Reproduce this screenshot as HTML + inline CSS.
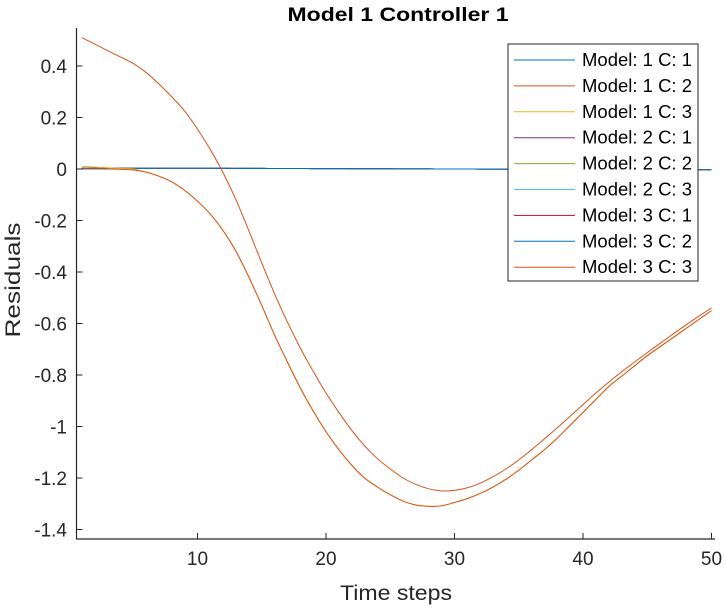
<!DOCTYPE html>
<html><head><meta charset="utf-8"><style>
body{margin:0;background:#fff;}
svg text{font-family:"Liberation Sans",Arial,sans-serif;fill:#262626;}
</style></head><body>
<svg id="chart" width="724" height="608" viewBox="0 0 724 608" xmlns="http://www.w3.org/2000/svg">
<rect width="724" height="608" fill="#fff"/>
<text x="398" y="21" text-anchor="middle" font-size="19" font-weight="bold" textLength="221" lengthAdjust="spacingAndGlyphs" style="fill:#000">Model 1 Controller 1</text>
<text transform="translate(20,280) rotate(-90)" text-anchor="middle" font-size="21" textLength="115" lengthAdjust="spacingAndGlyphs">Residuals</text>
<text x="396" y="600" text-anchor="middle" font-size="21" textLength="112" lengthAdjust="spacingAndGlyphs">Time steps</text>
<g id="plot"></g>
</svg>
<script>
const xTicks=[10,20,30,40,50];
const yTicks=[0.4,0.2,0,-0.2,-0.4,-0.6,-0.8,-1,-1.2,-1.4];
const yTickLabels=["0.4","0.2","0","-0.2","-0.4","-0.6","-0.8","-1","-1.2","-1.4"];
const lowerCurve=[0,0,0,-0.001,-0.004,-0.012,-0.028,-0.05,-0.083,-0.125,-0.175,-0.24,-0.32,-0.42,-0.53,-0.645,-0.75,-0.85,-0.94,-1.02,-1.09,-1.15,-1.2,-1.235,-1.265,-1.29,-1.305,-1.31,-1.308,-1.295,-1.28,-1.26,-1.235,-1.205,-1.17,-1.13,-1.09,-1.045,-0.995,-0.945,-0.895,-0.845,-0.805,-0.765,-0.725,-0.69,-0.655,-0.62,-0.585,-0.55];
const upperCurve=[0.51,0.485,0.46,0.435,0.41,0.375,0.33,0.28,0.225,0.155,0.075,-0.015,-0.12,-0.24,-0.365,-0.485,-0.595,-0.695,-0.785,-0.87,-0.945,-1.015,-1.075,-1.125,-1.165,-1.2,-1.225,-1.242,-1.25,-1.248,-1.238,-1.22,-1.195,-1.165,-1.13,-1.09,-1.048,-1.005,-0.96,-0.915,-0.87,-0.828,-0.788,-0.75,-0.713,-0.677,-0.641,-0.606,-0.572,-0.54];
const flatStart=[0.003,0.003,0.003,0.003,0.003,0.003,0.003,0.003,0.003,0.003];
const flatEnd=-0.003;
const yellowStart=[0.01,0.008,0.005,0.002,0];
const seriesNames=["Model: 1 C: 1","Model: 1 C: 2","Model: 1 C: 3","Model: 2 C: 1","Model: 2 C: 2","Model: 2 C: 3","Model: 3 C: 1","Model: 3 C: 2","Model: 3 C: 3"];
const seriesColors=["#0072BD","#D95319","#EDB120","#7E2F8E","#77AC30","#4DBEEE","#A2142F","#0072BD","#D95319"];

const N=50;
const xs=Array.from({length:N},(_,i)=>i+1);
function flat(){return xs.map((x,i)=>i<flatStart.length?flatStart[i]:flatStart[flatStart.length-1]+(flatEnd-flatStart[flatStart.length-1])*(i-flatStart.length+1)/(N-flatStart.length));}
const yellow=lowerCurve.map((v,i)=>i<yellowStart.length?Math.max(v,yellowStart[i]):v);
const seriesData=[flat(),lowerCurve,yellow,flat(),flat(),flat(),flat(),flat(),upperCurve];

const X=v=>197.5+(v-10)*12.85;
const Y=v=>169-v*257.5;
const L=76.5,R=715,T=28,B=539;
const NS="http://www.w3.org/2000/svg";
const g=document.getElementById('plot');
function mk(t,a,p){const e=document.createElementNS(NS,t);for(const k in a)e.setAttribute(k,a[k]);(p||g).appendChild(e);return e;}
function smoothPath(pts){
  let d='M'+pts[0][0].toFixed(2)+','+pts[0][1].toFixed(2);
  for(let i=0;i<pts.length-1;i++){
    const p0=pts[Math.max(0,i-1)],p1=pts[i],p2=pts[i+1],p3=pts[Math.min(pts.length-1,i+2)];
    const c1=[p1[0]+(p2[0]-p0[0])/6,p1[1]+(p2[1]-p0[1])/6];
    const c2=[p2[0]-(p3[0]-p1[0])/6,p2[1]-(p3[1]-p1[1])/6];
    d+='C'+c1[0].toFixed(2)+','+c1[1].toFixed(2)+' '+c2[0].toFixed(2)+','+c2[1].toFixed(2)+' '+p2[0].toFixed(2)+','+p2[1].toFixed(2);
  }
  return d;
}

const order=[0,3,4,5,6,7,2,1,8];
order.forEach(i=>{
  const pts=seriesData[i].map((v,j)=>[X(xs[j]),Y(v)]);
  const p=mk('path',{d:smoothPath(pts),fill:'none',stroke:seriesColors[i],'stroke-width':1});
  
  
});
const ax=mk('path',{d:`M${L},${T}V${B}H${R}`,fill:'none',stroke:'#262626','stroke-width':1.2});


xTicks.forEach(t=>{
  const l=mk('line',{x1:X(t),x2:X(t),y1:B,y2:B-6,stroke:'#262626'});
  
  
  const tx=mk('text',{x:X(t),y:B+26,'text-anchor':'middle','font-size':19});
  tx.textContent=String(t);
  
  
});
yTicks.forEach((t,i)=>{
  const l=mk('line',{x1:L,x2:L+6,y1:Y(t),y2:Y(t),stroke:'#262626'});
  
  
  const tx=mk('text',{x:67,y:Y(t)+7,'text-anchor':'end','font-size':19});
  tx.textContent=yTickLabels[i];
  
  
});
const lg=mk('g',{});


mk('rect',{x:508,y:44,width:190,height:237,fill:'#fff',stroke:'#262626','stroke-width':1},lg);
seriesNames.forEach((n,i)=>{
  const cy=60+i*25.9;
  const e=mk('g',{},lg);
  
  
  mk('line',{x1:514,x2:575,y1:cy,y2:cy,stroke:seriesColors[i]},e);
  const tx=mk('text',{x:582,y:cy+6,'font-size':18,textLength:110,lengthAdjust:'spacingAndGlyphs',style:'fill:#000'},e);
  tx.textContent=n;
});
</script>
</body></html>
